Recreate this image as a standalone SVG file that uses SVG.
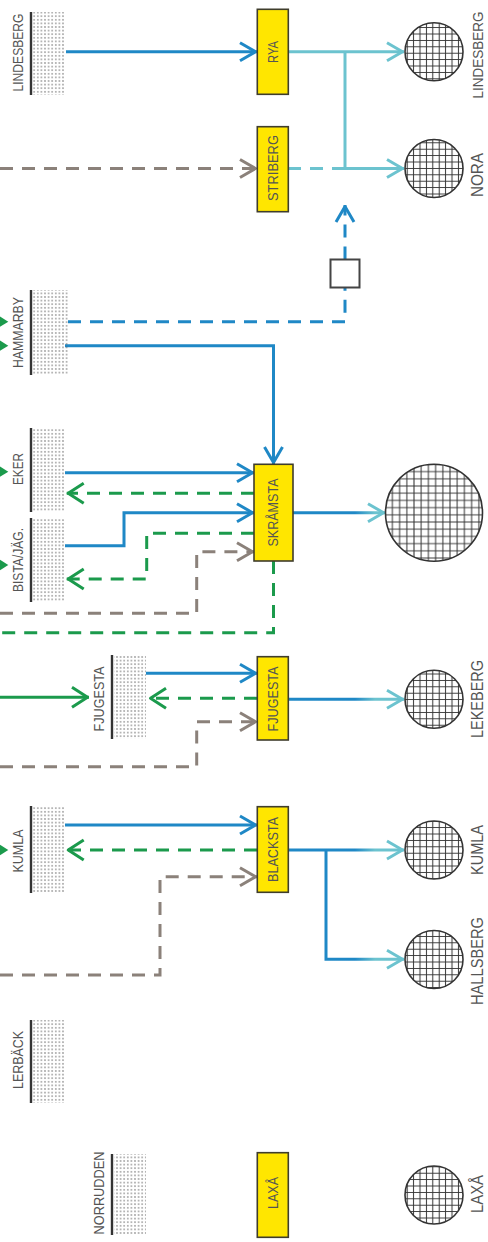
<svg xmlns="http://www.w3.org/2000/svg" width="488" height="1242" viewBox="0 0 488 1242">
<style>
.lbl{font-family:"Liberation Sans",Arial,sans-serif;fill:#555;}
.ls{font-size:14px;}
.rs{font-size:16px;}
.bs{font-size:14px;}
.res-line{stroke:#333;stroke-width:2.4;}
.res{fill:url(#dots);}
.box{fill:#ffe600;stroke:#3f3d2c;stroke-width:1.6;}
.circ{fill:url(#grid);stroke:#333;stroke-width:1.6;}
.circB{fill:url(#gridB);stroke:#333;stroke-width:1.6;}
.c{fill:none;stroke-width:3;}
.blue{stroke:#1f88c6;}
.teal{stroke:#6cc3cf;}
.green{stroke:#1b9a4c;}
.gray{stroke:#8b817a;}
.grad{stroke:url(#bt);}
.dash{stroke-dasharray:13 9;}
</style>
<defs>
<pattern id="dots" width="3.6" height="3.6" patternUnits="userSpaceOnUse"><circle cx="1.8" cy="1.8" r="0.75" fill="#555"/></pattern>
<pattern id="grid" width="6.4" height="6.4" patternUnits="userSpaceOnUse" x="0.8" y="-1.2"><rect width="6.4" height="6.4" fill="#fff"/><path d="M3.2,0 V6.4 M0,3.2 H6.4" stroke="#333" stroke-width="1"/></pattern>
<pattern id="gridB" width="7.2" height="7.2" patternUnits="userSpaceOnUse"><rect width="7.2" height="7.2" fill="#fff"/><path d="M3.6,0 V7.2 M0,3.6 H7.2" stroke="#333" stroke-width="1"/></pattern>
<linearGradient id="bt" gradientUnits="userSpaceOnUse" x1="355" y1="0" x2="375" y2="0"><stop offset="0" stop-color="#1f88c6"/><stop offset="1" stop-color="#6cc3cf"/></linearGradient>
<marker id="aBlue" viewBox="-20 -12 22 24" refX="0" refY="0" markerWidth="22" markerHeight="24" markerUnits="userSpaceOnUse" orient="auto"><path d="M-17,-9 L-1.5,0 L-17,9" fill="none" stroke="#1f88c6" stroke-width="3" stroke-linejoin="round"/></marker>
<marker id="aTeal" viewBox="-20 -12 22 24" refX="0" refY="0" markerWidth="22" markerHeight="24" markerUnits="userSpaceOnUse" orient="auto"><path d="M-17,-9 L-1.5,0 L-17,9" fill="none" stroke="#6cc3cf" stroke-width="3" stroke-linejoin="round"/></marker>
<marker id="aGreen" viewBox="-20 -12 22 24" refX="0" refY="0" markerWidth="22" markerHeight="24" markerUnits="userSpaceOnUse" orient="auto"><path d="M-17,-10 L-1.5,0 L-17,10" fill="none" stroke="#1b9a4c" stroke-width="3" stroke-linejoin="round"/></marker>
<marker id="aGray" viewBox="-20 -12 22 24" refX="0" refY="0" markerWidth="22" markerHeight="24" markerUnits="userSpaceOnUse" orient="auto"><path d="M-17,-9 L-1.5,0 L-17,9" fill="none" stroke="#8b817a" stroke-width="3" stroke-linejoin="round"/></marker>
</defs>
<rect width="488" height="1242" fill="#fff"/>

<g id="connectors">
<path class="c blue" d="M66,51.7 H257" marker-end="url(#aBlue)"/>
<path class="c gray dash" d="M0,168.5 H257" marker-end="url(#aGray)"/>
<path class="c teal" d="M288,51.7 H404" marker-end="url(#aTeal)"/>
<path class="c teal" d="M345,51.7 V168.5"/>
<path class="c teal dash" d="M288,168.5 H345"/>
<path class="c teal" d="M345,168.5 H404" marker-end="url(#aTeal)"/>
<path class="c blue dash" d="M68,321.7 H345 V288"/>
<path class="c blue dash" d="M345,259.5 V205" marker-end="url(#aBlue)"/>
<path class="c blue" d="M65,345.7 H273.5 V464" marker-end="url(#aBlue)"/>
<path class="c blue" d="M65,472.7 H254" marker-end="url(#aBlue)"/>
<path class="c green dash" d="M254,493.3 H66.7" marker-end="url(#aGreen)"/>
<path class="c blue" d="M65,545.7 H124 V512.7 H254" marker-end="url(#aBlue)"/>
<path class="c green dash" d="M254,533.3 H146.7 V579 H66.7" marker-end="url(#aGreen)"/>
<path class="c gray dash" d="M0,613.3 H196.7 V551.7 H254" marker-end="url(#aGray)"/>
<path class="c green dash" d="M273.5,561 V632.7 H0"/>
<path class="c grad" d="M293,512.7 H385" marker-end="url(#aTeal)"/>
<path class="c green" d="M0,697.3 H89" marker-end="url(#aGreen)"/>
<path class="c blue" d="M146,673.3 H257" marker-end="url(#aBlue)"/>
<path class="c green dash" d="M257,698.3 H149" marker-end="url(#aGreen)"/>
<path class="c gray dash" d="M0,766.7 H196.7 V721.7 H257" marker-end="url(#aGray)"/>
<path class="c grad" d="M288,699.3 H404" marker-end="url(#aTeal)"/>
<path class="c blue" d="M65,825 H257" marker-end="url(#aBlue)"/>
<path class="c green dash" d="M257,850 H66.7" marker-end="url(#aGreen)"/>
<path class="c gray dash" d="M0,975 H160 V876.7 H257" marker-end="url(#aGray)"/>
<path class="c grad" d="M288,850 H404" marker-end="url(#aTeal)"/>
<path class="c grad" d="M326,850 V959.3 H404" marker-end="url(#aTeal)"/>
<g fill="#1b9a4c">
<polygon points="-3,314.7 8.3,321.7 -3,328.7"/>
<polygon points="-3,338.7 8.3,345.7 -3,352.7"/>
<polygon points="-3,464.7 8.3,471.7 -3,478.7"/>
<polygon points="-3,558 8.3,565 -3,572"/>
<polygon points="-3,843 8.3,850 -3,857"/>
</g>
</g>

<g id="valve"><rect x="330.5" y="259.5" width="29" height="28" fill="#fff" stroke="#444" stroke-width="2"/></g>

<g id="res-lindesberg"><rect class="res" x="33" y="12" width="32" height="83"/><line class="res-line" x1="31" y1="12" x2="31" y2="95"/><text class="lbl ls" text-anchor="middle" textLength="78" lengthAdjust="spacingAndGlyphs" transform="translate(22.5,52.5) rotate(-90)">LINDESBERG</text></g>
<g id="res-hammarby"><rect class="res" x="33" y="290" width="35" height="85"/><line class="res-line" x1="31" y1="290" x2="31" y2="375"/><text class="lbl ls" text-anchor="middle" textLength="71" lengthAdjust="spacingAndGlyphs" transform="translate(22.5,332.5) rotate(-90)">HAMMARBY</text></g>
<g id="res-eker"><rect class="res" x="33" y="428" width="32" height="84"/><line class="res-line" x1="31" y1="428" x2="31" y2="512"/><text class="lbl ls" text-anchor="middle" textLength="32" lengthAdjust="spacingAndGlyphs" transform="translate(22.5,469) rotate(-90)">EKER</text></g>
<g id="res-bista"><rect class="res" x="33" y="518" width="32" height="84"/><line class="res-line" x1="31" y1="518" x2="31" y2="602"/><text class="lbl ls" text-anchor="middle" textLength="64" lengthAdjust="spacingAndGlyphs" transform="translate(22.5,560) rotate(-90)">BISTA/JÄG.</text></g>
<g id="res-fjugesta"><rect class="res" x="114" y="655" width="32" height="84"/><line class="res-line" x1="112" y1="655" x2="112" y2="739"/><text class="lbl ls" text-anchor="middle" textLength="65" lengthAdjust="spacingAndGlyphs" transform="translate(104,699) rotate(-90)">FJUGESTA</text></g>
<g id="res-kumla"><rect class="res" x="33" y="806" width="32" height="87"/><line class="res-line" x1="31" y1="806" x2="31" y2="893"/><text class="lbl ls" text-anchor="middle" textLength="43" lengthAdjust="spacingAndGlyphs" transform="translate(22.5,851) rotate(-90)">KUMLA</text></g>
<g id="res-lerback"><rect class="res" x="33" y="1020" width="32" height="83"/><line class="res-line" x1="31" y1="1020" x2="31" y2="1103"/><text class="lbl ls" text-anchor="middle" textLength="58" lengthAdjust="spacingAndGlyphs" transform="translate(22.5,1060) rotate(-90)">LERBÄCK</text></g>
<g id="res-norrudden"><rect class="res" x="114" y="1154" width="32" height="81"/><line class="res-line" x1="112" y1="1154" x2="112" y2="1235"/><text class="lbl ls" text-anchor="middle" textLength="83" lengthAdjust="spacingAndGlyphs" transform="translate(104,1193) rotate(-90)">NORRUDDEN</text></g>

<g id="box-rya"><rect class="box" x="257.3" y="9.3" width="31" height="85"/><text class="lbl bs" text-anchor="middle" textLength="22" lengthAdjust="spacingAndGlyphs" transform="translate(277.5,52) rotate(-90)">RYA</text></g>
<g id="box-striberg"><rect class="box" x="257.3" y="126.7" width="31" height="85"/><text class="lbl bs" text-anchor="middle" textLength="66" lengthAdjust="spacingAndGlyphs" transform="translate(277.5,168) rotate(-90)">STRIBERG</text></g>
<g id="box-skramsta"><rect class="box" x="254" y="464.3" width="39" height="96.7"/><text class="lbl bs" text-anchor="middle" textLength="68" lengthAdjust="spacingAndGlyphs" transform="translate(278,512.5) rotate(-90)">SKRÅMSTA</text></g>
<g id="box-fjugesta"><rect class="box" x="257.3" y="656.7" width="31" height="83.3"/><text class="lbl bs" text-anchor="middle" textLength="65" lengthAdjust="spacingAndGlyphs" transform="translate(277.5,699) rotate(-90)">FJUGESTA</text></g>
<g id="box-blacksta"><rect class="box" x="257.3" y="806.7" width="31" height="85.6"/><text class="lbl bs" text-anchor="middle" textLength="65" lengthAdjust="spacingAndGlyphs" transform="translate(277.5,849.5) rotate(-90)">BLACKSTA</text></g>
<g id="box-laxa"><rect class="box" x="257.3" y="1152.7" width="31" height="84.6"/><text class="lbl bs" text-anchor="middle" textLength="32" lengthAdjust="spacingAndGlyphs" transform="translate(277.5,1193) rotate(-90)">LAXÅ</text></g>

<g id="c-lindesberg"><circle class="circ" cx="434" cy="51.7" r="29"/><text class="lbl" font-size="15" text-anchor="middle" textLength="87" lengthAdjust="spacingAndGlyphs" transform="translate(483,55) rotate(-90)">LINDESBERG</text></g>
<g id="c-nora"><circle class="circ" cx="434" cy="168.5" r="29"/><text class="lbl rs" text-anchor="middle" textLength="44" lengthAdjust="spacingAndGlyphs" transform="translate(483,175) rotate(-90)">NORA</text></g>
<g id="c-skramsta"><circle class="circB" cx="434" cy="512.7" r="48.5"/></g>
<g id="c-lekeberg"><circle class="circ" cx="434" cy="699.3" r="29"/><text class="lbl rs" text-anchor="middle" textLength="78" lengthAdjust="spacingAndGlyphs" transform="translate(483,699) rotate(-90)">LEKEBERG</text></g>
<g id="c-kumla"><circle class="circ" cx="434" cy="850" r="29"/><text class="lbl rs" text-anchor="middle" textLength="50" lengthAdjust="spacingAndGlyphs" transform="translate(483,850) rotate(-90)">KUMLA</text></g>
<g id="c-hallsberg"><circle class="circ" cx="434" cy="959.5" r="29"/><text class="lbl rs" text-anchor="middle" textLength="88" lengthAdjust="spacingAndGlyphs" transform="translate(483,961) rotate(-90)">HALLSBERG</text></g>
<g id="c-laxa"><circle class="circ" cx="434" cy="1195" r="29"/><text class="lbl rs" text-anchor="middle" textLength="38" lengthAdjust="spacingAndGlyphs" transform="translate(483,1194) rotate(-90)">LAXÅ</text></g>
</svg>
